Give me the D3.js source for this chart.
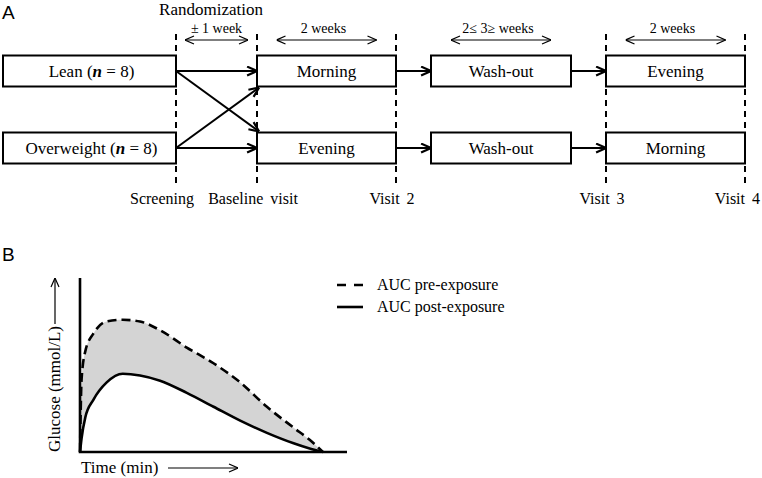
<!DOCTYPE html>
<html>
<head>
<meta charset="utf-8">
<script src="https://cdn.jsdelivr.net/npm/d3@7"></script>
<style>
  body { margin: 0; background: #fff; }
  svg { display: block; }
  text { font-family: "Liberation Serif", "Times New Roman", serif; fill: #000; }
  .panel { font-family: "Liberation Sans", Arial, sans-serif; font-size: 19px; }
</style>
</head>
<body>
<div id="chart"></div>
<script>
// ---- data ----
const groups = ["Lean", "Overweight"];
const groupN = [8, 8];
const visits = ["Screening", "Baseline visit", "Visit 2", "Visit 3", "Visit 4"];
const visitWeeks = [-1, 0, 2, 5, 7];
const intervalLabels = ["\u00b1 1 week", "2 weeks", "2\u2264 3\u2265 weeks", "2 weeks"];
const sequenceLean = ["Morning", "Wash-out", "Evening"];
const sequenceOver = ["Evening", "Wash-out", "Morning"];
const washoutWeeks = [2.5, 4.5];

const timePoints = [0, 0.6, 2, 5, 10, 16, 22.5, 30, 40, 50, 60, 70, 80, 86, 91];
const aucPre  = [0, 42, 58, 68, 75, 76, 75, 70, 60, 51, 40, 26, 14, 7, 0];
const aucPost = [0, 8, 20, 30, 40, 45, 44, 41, 34, 26, 18, 11, 5, 2, 0];
const legendLabels = ["AUC pre-exposure", "AUC post-exposure"];

const W = 762, H = 478;
const svg = d3.select("#chart").append("svg").attr("width", W).attr("height", H);

// arrowheads
const defs = svg.append("defs");
function chevron(id, size, sw) {
  defs.append("marker")
    .attr("id", id).attr("viewBox", "0 0 10 10")
    .attr("refX", 10).attr("refY", 5)
    .attr("markerWidth", size).attr("markerHeight", size)
    .attr("markerUnits", "userSpaceOnUse")
    .attr("orient", "auto-start-reverse")
    .append("path").attr("d", "M1,1 L10,5 L1,9")
    .attr("fill", "none").attr("stroke", "#000").attr("stroke-width", sw);
}
chevron("headBold", 11, 2);
chevron("headThin", 10, 1.2);

// ===== Panel A =====
svg.append("text").attr("class", "panel").attr("x", 2).attr("y", 19).text("A");

const x = d3.scaleLinear().domain(visitWeeks).range([176, 257, 396, 606, 745]);
const rowY = d3.scalePoint().domain(groups).range([71, 148]);
const boxH = 31;

svg.append("text").attr("x", 211).attr("y", 15)
  .attr("text-anchor", "middle").style("font-size", "17px").text("Randomization");

// dashed visit lines
svg.append("g").selectAll("line").data(visitWeeks).join("line")
  .attr("x1", d => x(d)).attr("x2", d => x(d))
  .attr("y1", 34).attr("y2", 188)
  .attr("stroke", "#000").attr("stroke-width", 2)
  .attr("stroke-dasharray", "6,5");

// interval double arrows
const intervals = d3.pairs(visitWeeks);
const ig = svg.append("g");
intervals.forEach(([a, b], i) => {
  const cx = (x(a) + x(b)) / 2;
  const half = Math.min(50, (x(b) - x(a)) / 2 - 9);
  ig.append("line")
    .attr("x1", cx - half).attr("x2", cx + half)
    .attr("y1", 40).attr("y2", 40)
    .attr("stroke", "#000").attr("stroke-width", 1.2)
    .attr("marker-start", "url(#headThin)").attr("marker-end", "url(#headThin)");
  ig.append("text").attr("x", cx + (i === 0 ? 0 : -3)).attr("y", 33)
    .attr("text-anchor", "middle").style("font-size", "14px").text(intervalLabels[i]);
});

// group boxes
const gb = svg.append("g");
groups.forEach((g, i) => {
  const y = rowY(g);
  gb.append("rect").attr("x", 3).attr("y", y - boxH / 2)
    .attr("width", x(visitWeeks[0]) - 3).attr("height", boxH)
    .attr("fill", "#fff").attr("stroke", "#000").attr("stroke-width", 2);
  const t = gb.append("text").attr("x", (3 + x(visitWeeks[0])) / 2 + 2).attr("y", y + 6)
    .attr("text-anchor", "middle").style("font-size", "17px");
  t.append("tspan").text(g + (i === 1 ? "  (" : " ("));
  t.append("tspan").style("font-style", "italic").style("font-weight", "bold").text("n");
  t.append("tspan").text(" = " + groupN[i] + ")");
});

// period boxes
const periodSpans = [[visitWeeks[1], visitWeeks[2]], washoutWeeks, [visitWeeks[3], visitWeeks[4]]];
const pb = svg.append("g");
[sequenceLean, sequenceOver].forEach((seq, r) => {
  const y = rowY(groups[r]);
  seq.forEach((label, k) => {
    const [a, b] = periodSpans[k];
    pb.append("rect").attr("x", x(a)).attr("y", y - boxH / 2)
      .attr("width", x(b) - x(a)).attr("height", boxH)
      .attr("fill", "#fff").attr("stroke", "#000").attr("stroke-width", 2);
    pb.append("text").attr("x", (x(a) + x(b)) / 2).attr("y", y + 6)
      .attr("text-anchor", "middle").style("font-size", "17px").text(label);
  });
  // connecting arrows between periods
  [[visitWeeks[2], washoutWeeks[0]], [washoutWeeks[1], visitWeeks[3]]].forEach(([a, b]) => {
    pb.append("line").attr("x1", x(a)).attr("x2", x(b)).attr("y1", y).attr("y2", y)
      .attr("stroke", "#000").attr("stroke-width", 2).attr("marker-end", "url(#headBold)");
  });
});

// randomization arrows
const x0 = x(visitWeeks[0]), x1 = x(visitWeeks[1]);
const yL = rowY("Lean"), yO = rowY("Overweight");
const rand = [
  [x0, yL, x1, yL],
  [x0, yL, x1 + 2, yO - boxH / 2 - 1],
  [x0, yO, x1 + 2, yL + boxH / 2 + 1],
  [x0, yO, x1, yO]
];
svg.append("g").selectAll("line").data(rand).join("line")
  .attr("x1", d => d[0]).attr("y1", d => d[1]).attr("x2", d => d[2]).attr("y2", d => d[3])
  .attr("stroke", "#000").attr("stroke-width", 2).attr("marker-end", "url(#headBold)");

// visit labels
const last = visits.length - 1;
svg.append("g").selectAll("text").data(visits).join("text")
  .attr("x", (d, i) => i === 0 ? x(visitWeeks[i]) + 18 : i === last ? W - 2 : x(visitWeeks[i]) - 4)
  .attr("y", 204)
  .attr("text-anchor", (d, i) => i === 0 || i === last ? "end" : "middle")
  .style("font-size", "16px")
  .style("word-spacing", "3px")
  .text(d => d);

// ===== Panel B =====
svg.append("text").attr("class", "panel").attr("x", 2).attr("y", 261).text("B");

const tx = d3.scaleLinear().domain([0, 100]).range([80, 347]);
const gy = d3.scaleLinear().domain([0, 100]).range([452, 278]);
const pts = timePoints.map((t, i) => ({ t, pre: aucPre[i], post: aucPost[i] }));

svg.append("path").datum(pts)
  .attr("d", d3.area().x(d => tx(d.t)).y0(d => gy(d.post)).y1(d => gy(d.pre)).curve(d3.curveMonotoneX))
  .attr("fill", "#d4d4d4");

svg.append("path").datum(pts)
  .attr("d", d3.line().x(d => tx(d.t)).y(d => gy(d.pre)).curve(d3.curveMonotoneX))
  .attr("fill", "none").attr("stroke", "#000").attr("stroke-width", 2.6)
  .attr("stroke-dasharray", "9,5");

svg.append("path").datum(pts)
  .attr("d", d3.line().x(d => tx(d.t)).y(d => gy(d.post)).curve(d3.curveMonotoneX))
  .attr("fill", "none").attr("stroke", "#000").attr("stroke-width", 2.6);

// axes (no ticks)
svg.append("path")
  .attr("d", `M${tx(0)},${gy(100)} V${gy(0)} H${tx(100)}`)
  .attr("fill", "none").attr("stroke", "#000").attr("stroke-width", 2.6);

// axis titles with arrows
svg.append("text").attr("transform", "translate(60,389) rotate(-90)")
  .attr("text-anchor", "middle").style("font-size", "17px").text("Glucose (mmol/L)");
svg.append("line").attr("x1", 55).attr("x2", 55).attr("y1", 324).attr("y2", 278)
  .attr("stroke", "#000").attr("stroke-width", 1.2).attr("marker-end", "url(#headThin)");

svg.append("text").attr("x", 81).attr("y", 473).style("font-size", "17px").text("Time (min)");
svg.append("line").attr("x1", 168).attr("x2", 238).attr("y1", 468).attr("y2", 468)
  .attr("stroke", "#000").attr("stroke-width", 1.2).attr("marker-end", "url(#headThin)");

// legend
const lg = svg.append("g");
legendLabels.forEach((label, i) => {
  const y = 285 + i * 22;
  lg.append("line").attr("x1", 337).attr("x2", 363).attr("y1", y).attr("y2", y)
    .attr("stroke", "#000").attr("stroke-width", 2.6)
    .attr("stroke-dasharray", i === 0 ? "9,8" : null);
  lg.append("text").attr("x", 377).attr("y", y + 5).style("font-size", "16px").text(label);
});
</script>
</body>
</html>
